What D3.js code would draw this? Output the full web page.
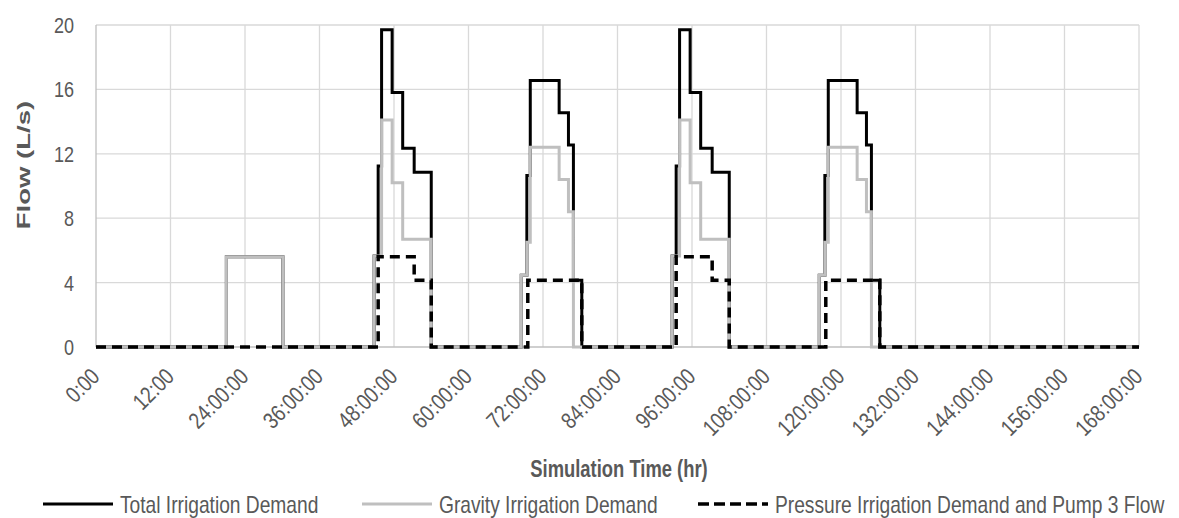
<!DOCTYPE html>
<html>
<head>
  <title>Irrigation demand</title>
  <meta http-equiv="content-type" content="text/html; charset=UTF-8">
  <script type="text/javascript" src="https://cdn.jsdelivr.net/npm/d3@7/dist/d3.min.js"></script>
</head>
<body style="margin:0; background:#fff;">

<style>
  text {
    font-family: "Liberation Sans", Arial, sans-serif;
    fill: #595959;
  }
</style>

<script type="text/javascript">
  // hours where each series changes value (step after), and the value from there on
  var totalHours = [0, 21.0, 30.1, 44.8, 45.45, 46.0, 47.7, 49.4, 51.25, 54.0,
    68.5, 69.4, 69.95, 74.6, 76.1, 76.9, 78.25,
    92.8, 93.45, 94.0, 95.7, 97.4, 99.25, 102.0,
    116.5, 117.4, 117.95, 122.6, 124.1, 124.9, 126.25, 168];
  var totalFlow = [0, 5.6, 0, 5.65, 11.25, 19.7, 15.8, 12.35, 10.85, 0,
    4.45, 10.65, 16.55, 14.55, 12.55, 4.15, 0,
    5.65, 11.25, 19.7, 15.8, 12.35, 10.85, 0,
    4.45, 10.65, 16.55, 14.55, 12.55, 4.15, 0, 0];

  var gravityHours = [0, 21.0, 30.1, 44.8, 46.0, 47.7, 49.4, 54.0,
    68.5, 69.4, 69.95, 74.6, 76.1, 76.9,
    92.8, 94.0, 95.7, 97.4, 102.0,
    116.5, 117.4, 117.95, 122.6, 124.1, 124.9, 168];
  var gravityFlow = [0, 5.6, 0, 5.65, 14.1, 10.2, 6.7, 0,
    4.45, 6.5, 12.4, 10.4, 8.4, 0,
    5.65, 14.1, 10.2, 6.7, 0,
    4.45, 6.5, 12.4, 10.4, 8.4, 0, 0];

  var pressureHours = [0, 45.45, 51.25, 54.0, 69.55, 78.25,
    93.45, 99.25, 102.0, 117.55, 126.25, 168];
  var pressureFlow = [0, 5.6, 4.15, 0, 4.15, 0,
    5.6, 4.15, 0, 4.15, 0, 0];

  var xTickHours = [0, 12, 24, 36, 48, 60, 72, 84, 96, 108, 120, 132, 144, 156, 168];
  var xTickLabels = ["0:00", "12:00", "24:00:00", "36:00:00", "48:00:00", "60:00:00",
    "72:00:00", "84:00:00", "96:00:00", "108:00:00", "120:00:00", "132:00:00",
    "144:00:00", "156:00:00", "168:00:00"];
  var yTicks = [0, 4, 8, 12, 16, 20];

  var seriesNames = ["Total Irrigation Demand", "Gravity Irrigation Demand",
    "Pressure Irrigation Demand and Pump 3 Flow"];

  var width = 1179,
    height = 518,
    plotLeft = 96, plotRight = 1139, plotTop = 25, plotBottom = 347,
    narrow = 0.82;   // squeeze text like a narrow font

  var x = d3.scaleLinear().domain([0, 168]).range([plotLeft, plotRight]);
  var y = d3.scaleLinear().domain([0, 20]).range([plotBottom, plotTop]);

  var svg = d3.select("body").append("svg")
    .attr("width", width)
    .attr("height", height);

  // gridlines
  svg.append("g").selectAll("line")
    .data(yTicks.slice(1))
    .enter().append("line")
    .attr("x1", plotLeft).attr("x2", plotRight)
    .attr("y1", function (d) { return y(d); })
    .attr("y2", function (d) { return y(d); })
    .style("stroke", "#d9d9d9").style("stroke-width", 1.3);

  svg.append("g").selectAll("line")
    .data(xTickHours.slice(1))
    .enter().append("line")
    .attr("x1", function (d) { return x(d); })
    .attr("x2", function (d) { return x(d); })
    .attr("y1", plotTop).attr("y2", plotBottom)
    .style("stroke", "#d9d9d9").style("stroke-width", 1.3);

  svg.append("line")
    .attr("x1", plotLeft).attr("x2", plotLeft).attr("y1", plotTop).attr("y2", plotBottom)
    .style("stroke", "#bfbfbf").style("stroke-width", 1.3);
  svg.append("line")
    .attr("x1", plotLeft).attr("x2", plotRight).attr("y1", plotBottom).attr("y2", plotBottom)
    .style("stroke", "#bfbfbf").style("stroke-width", 1.3);

  // y tick labels
  svg.append("g").selectAll("text")
    .data(yTicks)
    .enter().append("text")
    .attr("transform", function (d) {
      return "translate(74," + y(d) + ") scale(" + narrow + ",1)";
    })
    .attr("dy", "0.36em")
    .style("text-anchor", "end")
    .style("font-size", "22px")
    .text(function (d) { return d; });

  // x tick labels
  svg.append("g").selectAll("text")
    .data(xTickHours)
    .enter().append("text")
    .attr("transform", function (d) {
      return "translate(" + (x(d) + 5) + "," + 378 + ") rotate(-45) scale(" + narrow + ",1)";
    })
    .style("text-anchor", "end")
    .style("font-size", "23px")
    .text(function (d, i) { return xTickLabels[i]; });

  // axis titles
  svg.append("text")
    .attr("transform", "translate(23,165) rotate(-90) scale(1.45,1)")
    .attr("dy", "0.35em")
    .style("text-anchor", "middle")
    .style("font-size", "19px")
    .style("font-weight", "bold")
    .text("Flow (L/s)");

  svg.append("text")
    .attr("transform", "translate(619,477) scale(0.8,1)")
    .style("text-anchor", "middle")
    .style("font-size", "23px")
    .style("font-weight", "bold")
    .text("Simulation Time (hr)");

  // series
  var line = d3.line()
    .x(function (d) { return x(d[0]); })
    .y(function (d) { return y(d[1]); })
    .curve(d3.curveStepAfter);

  function pairs(hours, flow) {
    return hours.map(function (h, i) { return [h, flow[i]]; });
  }

  var styles = [
    { color: "#000000", width: 3, dash: null, legendDash: null },
    { color: "#bfbfbf", width: 3, dash: null, legendDash: null },
    { color: "#000000", width: 3.5, dash: "10,6", legendDash: "11,5" }
  ];

  var data = [pairs(totalHours, totalFlow), pairs(gravityHours, gravityFlow),
    pairs(pressureHours, pressureFlow)];

  svg.append("g").selectAll("path")
    .data(data)
    .enter().append("path")
    .attr("d", line)
    .style("fill", "none")
    .style("stroke", function (d, i) { return styles[i].color; })
    .style("stroke-width", function (d, i) { return styles[i].width; })
    .style("stroke-dasharray", function (d, i) { return styles[i].dash; })
    .style("stroke-linejoin", "miter");

  // legend
  var legendX = [43, 362, 698];
  var legend = svg.append("g").selectAll("g")
    .data(seriesNames)
    .enter().append("g")
    .attr("transform", function (d, i) { return "translate(" + legendX[i] + ",504)"; });

  legend.append("line")
    .attr("x1", 0).attr("x2", 70).attr("y1", 0).attr("y2", 0)
    .style("stroke", function (d, i) { return styles[i].color; })
    .style("stroke-width", function (d, i) { return styles[i].width; })
    .style("stroke-dasharray", function (d, i) { return styles[i].legendDash; });

  legend.append("text")
    .attr("transform", "translate(77,0) scale(0.8,1)")
    .attr("dy", "0.36em")
    .style("font-size", "24px")
    .text(function (d) { return d; });
</script>
</body>
</html>
